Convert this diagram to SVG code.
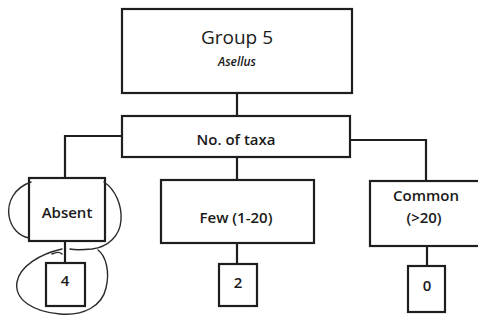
<svg xmlns="http://www.w3.org/2000/svg" width="478" height="320" viewBox="0 0 478 320">
  <style>
    .box { fill: #fff; stroke: #1e1e1e; stroke-width: 2.2; }
    .link { fill: none; stroke: #1e1e1e; stroke-width: 2.2; }
    .pen { fill: none; stroke: #2a2a2a; stroke-width: 1.4; stroke-linecap: round; }
    text { font-family: "Open Sans", "DejaVu Sans", sans-serif; fill: #1a1a1a; text-anchor: middle; font-weight: 600; }
    .t { font-size: 15px; }
    .title { font-size: 19px; font-weight: 400; }
  </style>
  <rect width="478" height="320" fill="#fff"/>

  <!-- connectors -->
  <g id="connectors">
    <line class="link" x1="237" y1="93" x2="237" y2="116"/>
    <polyline class="link" points="122,136 65,136 65,178"/>
    <polyline class="link" points="350,140 426,140 426,181"/>
    <line class="link" x1="237" y1="157" x2="237" y2="180"/>
    <line class="link" x1="65" y1="241" x2="65" y2="263"/>
    <line class="link" x1="237" y1="243" x2="237" y2="264"/>
    <line class="link" x1="427" y1="246" x2="427" y2="266"/>
  </g>

  <g id="group5">
    <rect class="box" x="122" y="9" width="230" height="84"/>
    <text class="title" x="237" y="44">Group 5</text>
    <text x="237" y="66" font-size="12" font-style="italic">Asellus</text>
  </g>

  <g id="taxa">
    <rect class="box" x="122" y="116" width="228" height="41"/>
    <text class="t" x="236" y="145">No. of taxa</text>
  </g>

  <g id="absent">
    <rect class="box" x="29" y="178" width="76" height="63"/>
    <text class="t" x="67" y="218">Absent</text>
  </g>

  <g id="few">
    <rect class="box" x="161" y="180" width="153" height="63"/>
    <text class="t" x="236" y="223">Few (1-20)</text>
  </g>

  <g id="common">
    <rect class="box" x="370" y="181" width="110" height="65"/>
    <text class="t" x="426" y="201">Common</text>
    <text class="t" x="424" y="223">(&gt;20)</text>
  </g>

  <g id="score-absent">
    <rect class="box" x="46" y="263" width="39" height="43"/>
    <text class="t" x="65" y="286">4</text>
  </g>

  <g id="score-few">
    <rect class="box" x="219" y="264" width="38" height="42"/>
    <text class="t" x="238" y="288">2</text>
  </g>

  <g id="score-common">
    <rect class="box" x="408" y="266" width="37" height="46"/>
    <text class="t" x="427" y="291">0</text>
  </g>

  <!-- hand-drawn pen loops -->
  <g id="pen-marks">
    <path class="pen" d="M31,182 C14,188 7,202 9,216 C11,228 19,236 29,238"/>
    <path class="pen" d="M104,182 C116,190 122,206 121,220 C120,236 108,247 92,249 C82,250 74,250 70,249"/>
    <path class="pen" d="M62,249 C40,254 20,266 17,282 C14,300 34,312 60,314 C84,316 102,306 106,288 C110,272 106,256 98,250"/>
    <path class="pen" d="M52,254 C56,252 60,252 62,254"/>
  </g>
</svg>
